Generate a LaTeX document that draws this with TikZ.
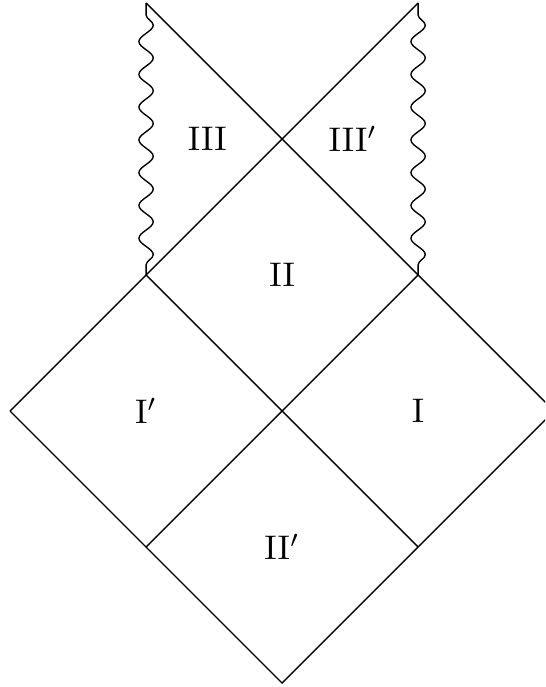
\documentclass[tikz,border=0pt]{standalone}
\usetikzlibrary{decorations.pathmorphing}
\begin{document}
\begin{tikzpicture}[x=1.4cm,y=1.4cm,
  edge/.style={draw=black,line width=0.4pt},
  sing/.style={draw=black,line width=0.4pt,decorate,
    decoration={snake,segment length=9.6pt,amplitude=2.1pt,pre length=3.5pt,post length=2.5pt}},
  lab/.style={inner sep=0pt,font=\normalsize}]
\clip (-2.074,-2.029) rectangle (1.934,3.022);
\useasboundingbox (-2.074,-2.029) rectangle (1.934,3.022);
% corner coordinates
\coordinate (L) at (-2,0);
\coordinate (R) at (2,0);
\coordinate (B) at (0,-2);
\coordinate (TL) at (-1,3);
\coordinate (TR) at (1,3);
\coordinate (ML) at (-1,1);
\coordinate (MR) at (1,1);
\coordinate (BL) at (-1,-1);
\coordinate (BR) at (1,-1);
% null lines
\draw[edge] (L) -- (TR);
\draw[edge] (TL) -- (R);
\draw[edge] (L) -- (B) -- (R);
\draw[edge] (ML) -- (BR);
\draw[edge] (BL) -- (MR);
% singularities
\draw[sing] (TL) -- (ML);
\draw[sing] (TR) -- (MR);
% labels
\node[lab] (n3) at (-0.55,2) {III};
\node[lab] (n3p) at (0.52,2) {III$'$};
\node[lab] (n2) at (0,1) {II};
\node[lab] (n1p) at (-1,0) {I$'$};
\node[lab] (n1) at (1,0) {I};
\node[lab] (n2p) at (0,-1) {II$'$};
\end{tikzpicture}
\end{document}
